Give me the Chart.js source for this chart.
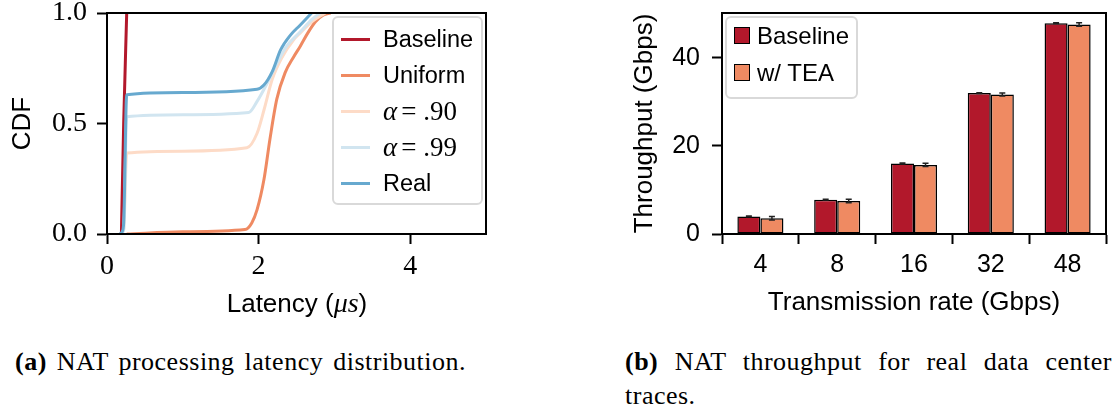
<!DOCTYPE html>
<html>
<head>
<meta charset="utf-8">
<script src="https://cdn.jsdelivr.net/npm/chart.js@4/dist/chart.umd.min.js"></script>
<style>
  body { margin: 0; background: #fff; width: 1117px; height: 413px; position: relative; overflow: hidden;
         font-family: "Liberation Sans", Arial, sans-serif; color: #000; }
  .panel { position: absolute; top: 0; }
  .legend { position: absolute; background: rgba(255,255,255,0.85); border: 2px solid #d9d9d9; border-radius: 6px; box-sizing: border-box; }
  .row { position: absolute; white-space: nowrap; font-size: 23.5px; height: 36px; line-height: 36px; }
  .swatch-line { position: absolute; height: 3px; width: 29px; }
  .swatch-box { position: absolute; width: 16px; height: 17px; border: 1.5px solid #000; box-sizing: border-box; }
  .math { font-family: "Liberation Serif", serif; font-size: 27px; }
  .math i { margin-right: 4px; }
  .cap { position: absolute; font-family: "Liberation Serif", serif; font-size: 26px; line-height: 34px;
         letter-spacing: 0.5px; word-spacing: 3px; }
  .xt { position: absolute; font-size: 26px; white-space: nowrap; transform: translate(-50%, -50%); }
</style>
</head>
<body>
<div class="panel" style="left:0;width:500px;height:320px"><canvas id="cdf" width="500" height="320"></canvas></div>
<div class="panel" style="left:600px;width:517px;height:320px"><canvas id="thr" width="517" height="320"></canvas></div>

<div class="xt" style="left:297px;top:303px">Latency (<span class="math" style="font-size:28px"><i style="margin:0">μs</i></span>)</div>

<div id="legA" class="legend" style="left:332px;top:16px;width:151px;height:189px"></div>
<div id="legB" class="legend" style="left:725px;top:16px;width:133px;height:83px"></div>

<div class="cap" style="left:15px;top:345px;width:490px"><b>(a)</b> NAT processing latency distribution.</div>
<div class="cap" style="left:625px;top:345px;width:487px;text-align:justify"><b>(b)</b> NAT throughput for real data center traces.</div>

<script>
// ---- (a) latency CDF, points are [latency us, cdf]
const cdfBaseline = [[0.19, 0], [0.22, 0.5], [0.26, 1.0]];
const cdfUniform = [[0.26, 0], [1.0, 0.01], [1.82, 0.02], [1.91, 0.05], [1.98, 0.11], [2.07, 0.245], [2.15, 0.43],
  [2.24, 0.61], [2.35, 0.73], [2.46, 0.80], [2.55, 0.85], [2.65, 0.91], [2.75, 0.96], [2.85, 0.99], [2.95, 1.0]];
const cdfA90 = [[0.18, 0], [0.22, 0.02], [0.26, 0.366], [1.0, 0.375], [1.845, 0.39], [1.98, 0.456], [2.07, 0.56],
  [2.18, 0.70], [2.31, 0.80], [2.46, 0.878], [2.55, 0.91], [2.7, 0.96], [2.88, 1.0]];
const cdfA99 = [[0.18, 0], [0.22, 0.02], [0.26, 0.531], [1.0, 0.54], [1.87, 0.55], [1.98, 0.60], [2.11, 0.68],
  [2.24, 0.77], [2.37, 0.85], [2.55, 0.915], [2.7, 0.97], [2.81, 1.0]];
const cdfReal = [[0.17, 0], [0.2, 0.01], [0.22, 0.05], [0.26, 0.63], [1.0, 0.64], [1.98, 0.655], [2.07, 0.674],
  [2.18, 0.735], [2.29, 0.833], [2.42, 0.90], [2.55, 0.946], [2.7, 1.0]];
const cdfLabels = ["Baseline", "Uniform", "α = .90", "α = .99", "Real"];
const cdfColors = ["#b2182b", "#ef8a62", "#fddbc7", "#d1e5f0", "#67a9cf"];
const latencyTicks = [0, 2, 4];
const cdfTicks = [0, 0.5, 1.0];

// ---- (b) throughput
const rates = ["4", "8", "16", "32", "48"];
const thrBaseline = [4.0, 7.8, 16.0, 32.0, 47.9];
const thrTEA = [3.6, 7.5, 15.7, 31.7, 47.6];
const errBaseline = [0.1, 0.1, 0.1, 0.1, 0.1];
const errTEA = [0.4, 0.4, 0.35, 0.35, 0.4];
const barLabels = ["Baseline", "w/ TEA"];
const barColors = ["#b2182b", "#ef8a62"];

const frame = {
  id: "frame",
  afterDraw(c) {
    const a = c.chartArea, ctx = c.ctx;
    ctx.save();
    ctx.strokeStyle = "#000";
    ctx.lineWidth = 2;
    ctx.strokeRect(a.left, a.top, a.right - a.left, a.bottom - a.top);
    ctx.restore();
  }
};

const errorBars = {
  id: "errorBars",
  afterDatasetsDraw(c) {
    const ctx = c.ctx, y = c.scales.y;
    ctx.save();
    ctx.strokeStyle = "#222";
    ctx.lineWidth = 1.5;
    c.data.datasets.forEach((ds, di) => {
      c.getDatasetMeta(di).data.forEach((bar, i) => {
        const v = ds.data[i], e = ds.errors[i];
        const t = y.getPixelForValue(v + e), b = y.getPixelForValue(v - e);
        ctx.beginPath();
        ctx.moveTo(bar.x, t); ctx.lineTo(bar.x, b);
        ctx.moveTo(bar.x - 3, t); ctx.lineTo(bar.x + 3, t);
        ctx.moveTo(bar.x - 3, b); ctx.lineTo(bar.x + 3, b);
        ctx.stroke();
      });
    });
    ctx.restore();
  }
};

function axisStyle() {
  return {
    border: { display: true, color: "#000", width: 2 },
    grid: { display: true, drawOnChartArea: false, drawTicks: true, tickLength: 10, tickColor: "#000", tickWidth: 2 }
  };
}

// fixed axis boxes so the plot areas land where the original ones are
function fitX(h) {
  return s => { s.height = h; s.paddingLeft = 0; s.paddingRight = 0; };
}
function fitY(w) {
  return s => { s.width = w; s.paddingTop = 0; s.paddingBottom = 0; };
}

const serifTick = { family: "Liberation Serif", size: 28 };
const sansTick = { family: "Liberation Sans", size: 25 };

const cdfSeries = [cdfBaseline, cdfUniform, cdfA90, cdfA99, cdfReal];
new Chart(document.getElementById("cdf"), {
  type: "line",
  data: {
    datasets: cdfSeries.map((pts, i) => ({
      label: cdfLabels[i],
      data: pts.map(p => ({ x: p[0], y: p[1] })),
      borderColor: cdfColors[i],
      borderWidth: 3,
      pointRadius: 0,
      cubicInterpolationMode: "monotone",
      order: cdfSeries.length - i
    }))
  },
  options: {
    responsive: false,
    animation: false,
    layout: { padding: { top: 13, right: 14, bottom: 0, left: 0 } },
    plugins: { legend: { display: false }, tooltip: { enabled: false } },
    scales: {
      x: {
        type: "linear", min: 0, max: 5,
        ...axisStyle(),
        afterFit: fitX(86),
        afterBuildTicks: s => { s.ticks = latencyTicks.map(v => ({ value: v })); },
        ticks: { color: "#000", font: serifTick, padding: 6, maxRotation: 0 }
      },
      y: {
        type: "linear", min: 0, max: 1,
        ...axisStyle(),
        afterFit: fitY(107),
        afterBuildTicks: s => { s.ticks = cdfTicks.map(v => ({ value: v })); },
        ticks: { color: "#000", font: serifTick, padding: 10, callback: v => v.toFixed(1) },
        title: { display: true, text: "CDF", color: "#000", font: { family: "Liberation Sans", size: 26 }, padding: { top: 7 } }
      }
    }
  },
  plugins: [frame]
});

new Chart(document.getElementById("thr"), {
  type: "bar",
  data: {
    labels: rates,
    datasets: [thrBaseline, thrTEA].map((vals, i) => ({
      label: barLabels[i],
      data: vals,
      errors: [errBaseline, errTEA][i],
      backgroundColor: barColors[i],
      borderColor: "#000",
      borderWidth: 1.5,
      borderSkipped: false,
      categoryPercentage: 0.6,
      barPercentage: 1.0
    }))
  },
  options: {
    responsive: false,
    animation: false,
    layout: { padding: { top: 13, right: 11, bottom: 0, left: 0 } },
    plugins: { legend: { display: false }, tooltip: { enabled: false } },
    scales: {
      x: {
        ...axisStyle(),
        afterFit: fitX(86),
        ticks: { color: "#000", font: sansTick, padding: 6, maxRotation: 0 },
        title: { display: true, text: "Transmission rate (Gbps)", color: "#000", font: { family: "Liberation Sans", size: 26 }, padding: { bottom: 2 } }
      },
      y: {
        min: 0, max: 50.2,
        ...axisStyle(),
        afterFit: fitY(122),
        ticks: { color: "#000", font: sansTick, padding: 12, stepSize: 20, includeBounds: false },
        title: { display: true, text: "Throughput (Gbps)", color: "#000", font: { family: "Liberation Sans", size: 26 }, padding: { top: 29 } }
      }
    }
  },
  plugins: [frame, errorBars]
});

// HTML legends placed inside the plot areas
const legA = document.getElementById("legA");
cdfLabels.forEach((lab, i) => {
  const row = document.createElement("div");
  row.className = "row";
  row.style.top = (3 + 36 * i) + "px";
  row.style.left = "0px";
  const sw = document.createElement("div");
  sw.className = "swatch-line";
  sw.style.background = cdfColors[i];
  sw.style.left = "7px";
  sw.style.top = "17px";
  const tx = document.createElement("span");
  tx.style.position = "absolute";
  tx.style.left = "49px";
  if (lab.startsWith("α")) {
    tx.className = "math";
    tx.innerHTML = "<i>α</i>= " + lab.split("= ")[1];
  } else {
    tx.textContent = lab;
  }
  row.appendChild(sw);
  row.appendChild(tx);
  legA.appendChild(row);
});

const legB = document.getElementById("legB");
barLabels.forEach((lab, i) => {
  const row = document.createElement("div");
  row.className = "row";
  row.style.top = (0 + 37 * i) + "px";
  row.style.left = "0px";
  const sw = document.createElement("div");
  sw.className = "swatch-box";
  sw.style.background = barColors[i];
  sw.style.left = "7px";
  sw.style.top = "9px";
  const tx = document.createElement("span");
  tx.style.position = "absolute";
  tx.style.left = "30px";
  tx.style.fontSize = "24px";
  tx.textContent = lab;
  row.appendChild(sw);
  row.appendChild(tx);
  legB.appendChild(row);
});
</script>
</body>
</html>
